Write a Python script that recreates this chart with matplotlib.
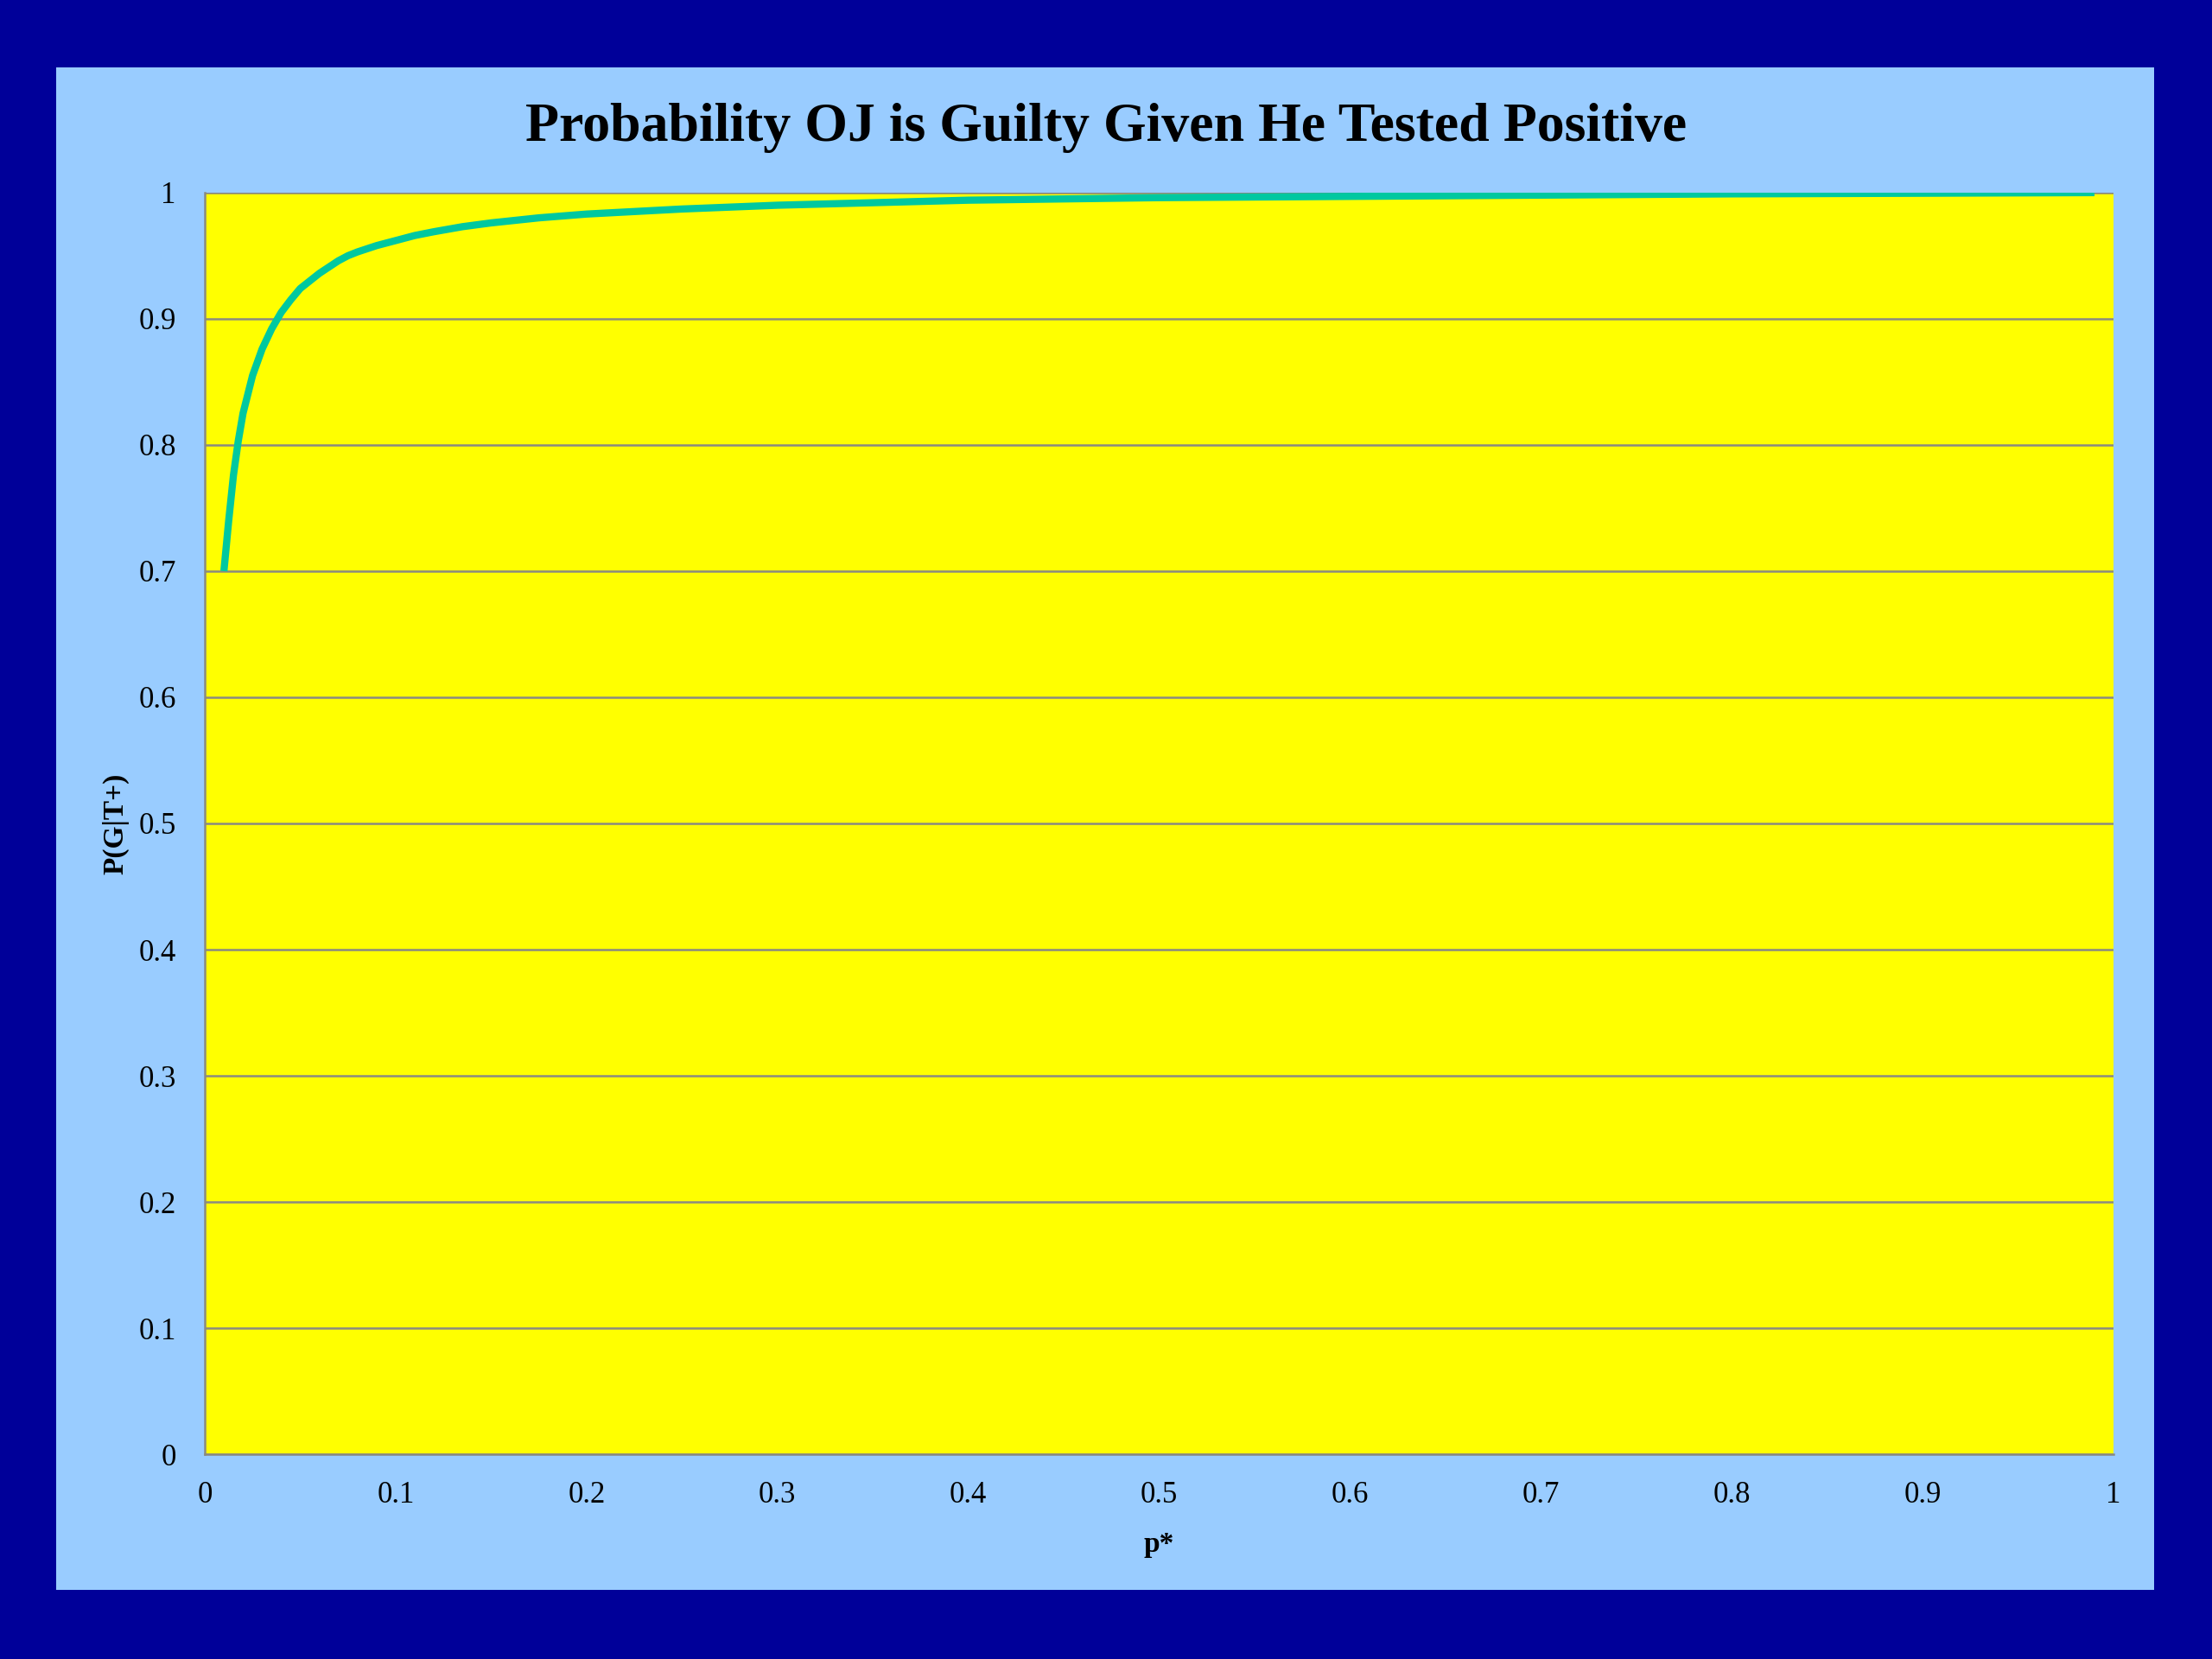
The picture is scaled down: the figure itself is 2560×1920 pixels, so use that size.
import matplotlib.pyplot as plt
from matplotlib.patches import Rectangle

# Data
p_star = [0.01, 0.0125, 0.015, 0.0175, 0.02, 0.025, 0.03, 0.035, 0.04, 0.045, 0.05,
          0.055, 0.06, 0.065, 0.07, 0.075, 0.08, 0.09, 0.10, 0.11, 0.12, 0.135, 0.15,
          0.175, 0.20, 0.25, 0.30, 0.35, 0.40, 0.50, 0.60, 0.70, 0.80, 0.90, 0.99]
p_guilty = [0.700, 0.740, 0.776, 0.803, 0.825, 0.855, 0.876, 0.892, 0.905, 0.915, 0.924,
            0.930, 0.936, 0.941, 0.946, 0.950, 0.953, 0.958, 0.962, 0.966, 0.969, 0.973, 0.976,
            0.980, 0.983, 0.987, 0.990, 0.992, 0.994, 0.996, 0.997, 0.998, 0.999, 0.9995, 1.0]

x_ticks = [0, 0.1, 0.2, 0.3, 0.4, 0.5, 0.6, 0.7, 0.8, 0.9, 1]
tick_labels = ['0', '0.1', '0.2', '0.3', '0.4', '0.5', '0.6', '0.7', '0.8', '0.9', '1']

DARK_BLUE = '#000099'
LIGHT_BLUE = '#99CCFF'
YELLOW = '#FFFF00'
LINE = '#00C8A0'
GRID = '#8A8A80'

plt.rcParams['font.family'] = ['Liberation Serif', 'DejaVu Serif']

fig = plt.figure(figsize=(25.6, 19.2), dpi=100)
fig.patch.set_facecolor(DARK_BLUE)

# light blue chart panel (behind the axes)
fig.patches.append(Rectangle((0.0254, 0.0417), 0.9484, 0.9177,
                             transform=fig.transFigure, facecolor=LIGHT_BLUE,
                             edgecolor='none', zorder=-5))

ax = fig.add_axes([0.0926, 0.1234, 0.8629, 0.7605])
ax.set_zorder(2)
ax.set_facecolor(YELLOW)

ax.plot(p_star, p_guilty, color=LINE, linewidth=6, solid_capstyle='butt',
        solid_joinstyle='round', zorder=3)

ax.set_xlim(0, 1)
ax.set_ylim(0, 1)
ax.set_xticks(x_ticks)
ax.set_xticklabels(tick_labels)
ax.set_yticks(x_ticks)
ax.set_yticklabels(tick_labels)
ax.tick_params(axis='both', length=0, labelsize=25, colors='black')
ax.tick_params(axis='x', pad=22)
ax.tick_params(axis='y', pad=24)

ax.yaxis.grid(True, color=GRID, linewidth=1.8)
ax.set_axisbelow(True)

for side in ['top', 'right']:
    ax.spines[side].set_visible(False)
for side in ['left', 'bottom']:
    ax.spines[side].set_color(GRID)
    ax.spines[side].set_linewidth(1.8)

ax.set_xlabel('p*', fontsize=24, fontweight='bold', labelpad=18)
ax.set_ylabel('P(G|T+)', fontsize=24, fontweight='bold', labelpad=8)

fig.text(0.5, 0.923, 'Probability OJ is Guilty Given He Tested Positive',
         ha='center', va='center', fontsize=46, fontweight='bold', zorder=3)

fig.savefig('out.png', dpi=100, facecolor=fig.get_facecolor())
